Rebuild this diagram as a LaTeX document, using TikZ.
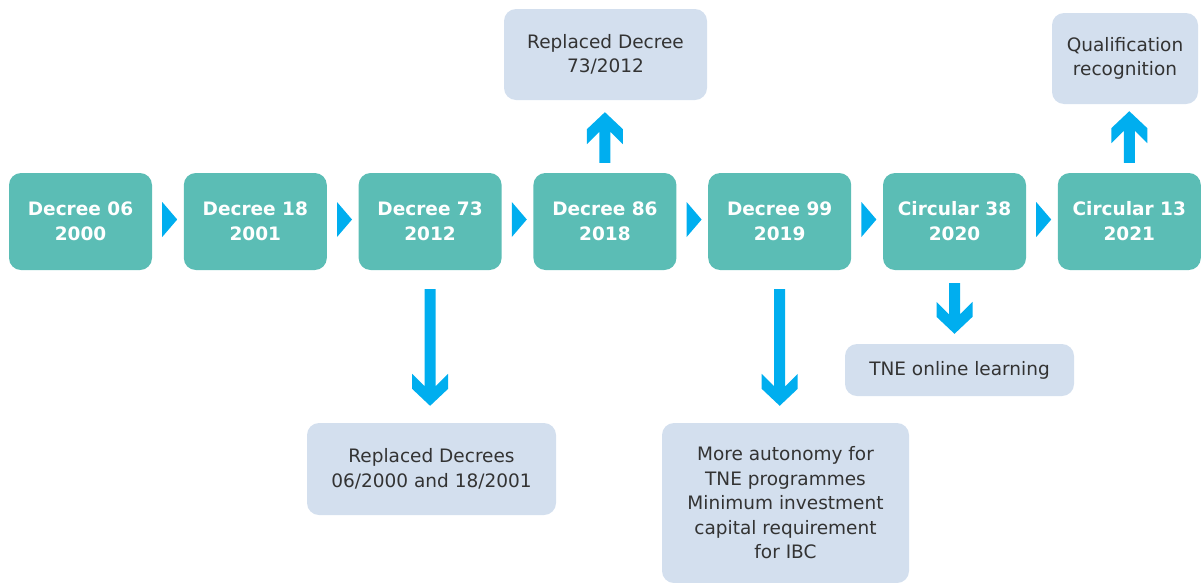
\documentclass[tikz,border=0pt]{standalone}
\usepackage{fontspec}
\setmainfont{DejaVu Sans}
\usetikzlibrary{calc}

\definecolor{stepteal}{HTML}{5BBDB5}
\definecolor{notefill}{HTML}{D3DFEE}
\definecolor{notetext}{HTML}{333333}
\definecolor{arrowblue}{HTML}{00AEEF}

\tikzset{
  milestone/.style={fill=stepteal, rounded corners=12pt, minimum width=143pt,
    minimum height=97pt, inner sep=0pt, align=center, text=white,
    font=\fontsize{18.5}{25}\selectfont\bfseries},
  note/.style={fill=notefill, rounded corners=12pt, inner sep=0pt,
    align=center, text=notetext, font=\fontsize{18.5}{24.5}\selectfont},
}

% vertical block arrow with a chevron head: #1 tail, #2 tip, #3 = 1 up / -1 down
\newcommand\blockarrow[3]{%
  \fill[arrowblue] let \p1=#1, \p2=#2 in
    (\x1-5.5pt,\y1) -- (\x1-5.5pt,{\y2-(#3)*19.5pt})
    -- (\x1-18pt,{\y2-(#3)*32pt}) -- (\x1-18pt,{\y2-(#3)*17pt})
    -- (\x1,\y2)
    -- (\x1+18pt,{\y2-(#3)*17pt}) -- (\x1+18pt,{\y2-(#3)*32pt})
    -- (\x1+5.5pt,{\y2-(#3)*19.5pt}) -- (\x1+5.5pt,\y1) -- cycle;}

% small triangle pointing right, just after a milestone box
\newcommand\steptri[1]{%
  \fill[arrowblue] ($(#1.east)+(10,-19.5)$) -- ($(#1.east)+(25,-2)$)
    -- ($(#1.east)+(10,15.5)$) -- cycle;}

\begin{document}
\begin{tikzpicture}[x=1pt,y=-1pt]
\useasboundingbox (0,0) rectangle (1201,582);

% timeline
\node[milestone] (d06) at (80.5,221.5)  {Decree 06\\2000};
\node[milestone] (d18) at (255.3,221.5) {Decree 18\\2001};
\node[milestone] (d73) at (430.1,221.5) {Decree 73\\2012};
\node[milestone] (d86) at (604.9,221.5) {Decree 86\\2018};
\node[milestone] (d99) at (779.7,221.5) {Decree 99\\2019};
\node[milestone] (c38) at (954.5,221.5) {Circular 38\\2020};
\node[milestone] (c13) at (1129.3,221.5){Circular 13\\2021};

\steptri{d06}
\steptri{d18}
\steptri{d73}
\steptri{d86}
\steptri{d99}
\steptri{c38}

% notes
\node[note, minimum width=203pt, minimum height=91pt] (n86) at (605.5,54.5)
  {Replaced Decree\\73/2012};
\node[note, minimum width=146pt, minimum height=91pt] (n13) at (1125,58.5)
  {Qualification\\recognition};
\node[note, minimum width=249pt, minimum height=92pt] (n73) at (431.5,469)
  {Replaced Decrees\\06/2000 and 18/2001};
\node[note, minimum width=247pt, minimum height=160pt] (n99) at (785.5,503)
  {More autonomy for\\TNE programmes\\Minimum investment\\capital requirement\\for IBC};
\node[note, minimum width=229pt, minimum height=52pt] (n38) at (959.5,370)
  {TNE online learning};

% links from milestones to notes
\blockarrow{($(d73.south)+(0,19)$)}{($(d73.south |- n73.north)+(0,-17)$)}{-1}
\blockarrow{($(d99.south)+(0,19)$)}{($(d99.south |- n99.north)+(0,-17)$)}{-1}
\blockarrow{($(c38.south)+(0,13)$)}{($(c38.south |- n38.north)+(0,-10)$)}{-1}
\blockarrow{($(d86.north)+(0,-10)$)}{($(d86.north |- n86.south)+(0,12)$)}{1}
\blockarrow{($(c13.north)+(0,-10)$)}{($(c13.north |- n13.south)+(0,7)$)}{1}
\end{tikzpicture}
\end{document}
